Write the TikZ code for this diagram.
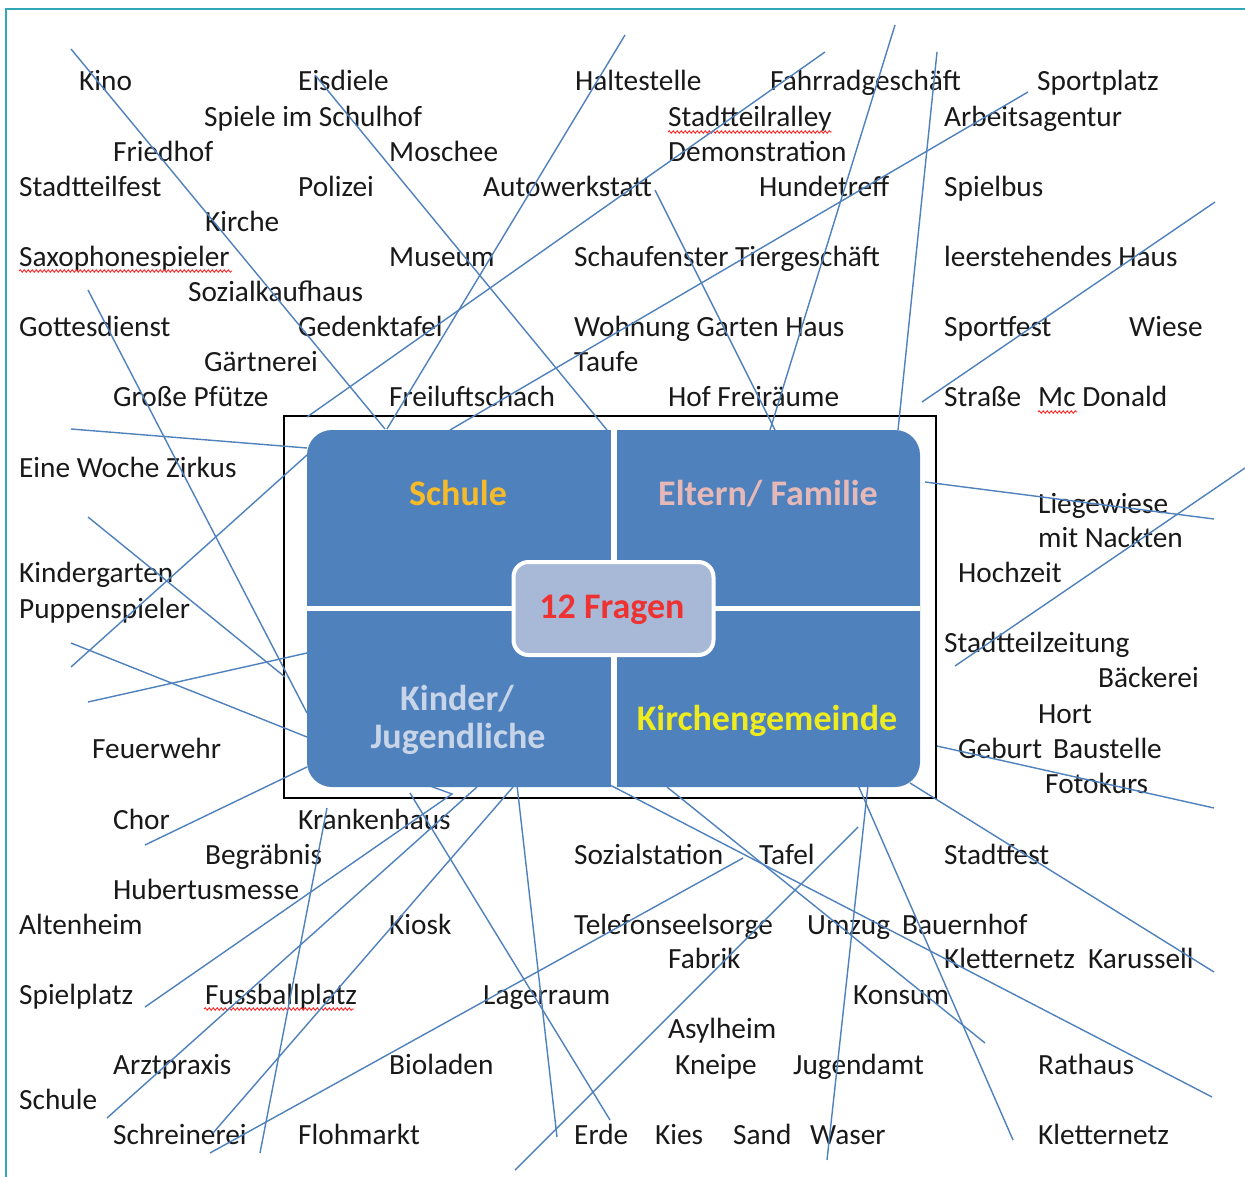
\documentclass[tikz,border=0pt]{standalone}
\usepackage{fontspec}
\setmainfont{Carlito}
\usetikzlibrary{decorations.pathmorphing}
\definecolor{smblue}{RGB}{79,129,189}
\definecolor{cfill}{RGB}{167,185,214}
\definecolor{frameteal}{RGB}{50,168,182}
\definecolor{cschule}{RGB}{247,186,40}
\definecolor{celtern}{RGB}{230,185,184}
\definecolor{cfragen}{RGB}{238,50,50}
\definecolor{ckinder}{RGB}{200,212,232}
\definecolor{ckirche}{RGB}{238,236,30}
\definecolor{ctext}{RGB}{25,25,25}
\tikzset{
  lbl/.style={anchor=base west, inner sep=0pt, font=\fontsize{29.3}{35}\selectfont, text=ctext},
  qlbl/.style={anchor=base, inner sep=0pt, font=\fontsize{36}{40}\selectfont\bfseries},
  link/.style={draw=smblue, line width=1.4pt},
  spell/.style={draw=red!85, line width=0.9pt, decorate, decoration={snake, amplitude=1.2pt, segment length=4pt}},
  framebox/.style={draw=frameteal, line width=2pt}
}
\begin{document}
\begin{tikzpicture}[x=1pt,y=-1pt]
\useasboundingbox (0,0) rectangle (1245,1177);
\fill[white] (0,0) rectangle (1245,1177);
\draw[framebox] (6,1177) -- (6,9) -- (1245,9);

% central matrix
\node[draw=black, line width=1.3pt, minimum width=652pt, minimum height=382pt, inner sep=0pt] (outer) at (610,607) {};
\node[fill=smblue, rounded corners=25pt, minimum width=613pt, minimum height=357pt, inner sep=0pt] (matrix) at (613.5,608.5) {};
\draw[white, line width=6pt] (matrix.north) -- (matrix.south);
\draw[white, line width=5.5pt] (matrix.west) -- (matrix.east);
\node[fill=cfill, draw=white, line width=4pt, rounded corners=15pt, minimum width=200pt, minimum height=93pt, inner sep=0pt] (center) at (613.5,608.5) {};
\node[qlbl, text=cfragen] (fragen) at (612,618) {12 Fragen};
\node[qlbl, text=cschule] (qschule) at (458,505) {Schule};
\node[qlbl, text=celtern] (qeltern) at (768,505) {Eltern/ Familie};
\node[qlbl, text=ckinder] (qkinder) at (457,710) {Kinder/};
\node[qlbl, text=ckinder] (qjugend) at (458,748) {Jugendliche};
\node[qlbl, text=ckirche] (qkirche) at (767,730) {Kirchengemeinde};

% words
\foreach \n/\x/\y/\t in {
kino/79/91/Kino, eisdiele/298/91/Eisdiele, halte/575/91/Haltestelle, fahrrad/770/91/Fahrradgeschäft, sportplatz/1037/91/Sportplatz,
spiele/204/126.5/Spiele im Schulhof, ralley/668/126.5/Stadtteilralley, arbeit/944/126.5/Arbeitsagentur,
friedhof/113/161.5/Friedhof, moschee/389/161.5/Moschee, demo/668/161.5/Demonstration,
stfest/19/197/Stadtteilfest, polizei/298/197/Polizei, auto/483/197/Autowerkstatt, hunde/759/197/Hundetreff, spielbus/944/197/Spielbus,
kirche/205/232/Kirche,
saxo/19/266.5/Saxophonespieler, museum/389/266.5/Museum, schauf/574/266.5/Schaufenster Tiergeschäft, leer/944/266.5/leerstehendes Haus,
sozkauf/188/301.5/Sozialkaufhaus,
gottes/19/336.5/Gottesdienst, gedenk/298/336.5/Gedenktafel, wohnung/574/336.5/Wohnung Garten Haus, sportfest/944/336.5/Sportfest, wiese/1129/336.5/Wiese,
gaert/204/371.5/Gärtnerei, taufe/574/371.5/Taufe,
pfuetze/113/406.5/Große Pfütze, schach/389/406.5/Freiluftschach, hof/668/406.5/Hof Freiräume, strasse/944/406.5/Straße, mcd/1038/406.5/Mc Donald,
zirkus/19/477/Eine Woche Zirkus,
liege/1038/513/Liegewiese, nackt/1038/547/mit Nackten, hochzeit/958/582/Hochzeit,
kinderg/19/582/Kindergarten, puppen/19/618/Puppenspieler,
zeitung/944/652/Stadtteilzeitung, baecker/1098/687/Bäckerei, hort/1038/723/Hort,
feuer/92/758/Feuerwehr, geburt/958/758/Geburt, bau/1053/758/Baustelle, foto/1045/793/Fotokurs,
chor/113/829/Chor, kranken/298/829/Krankenhaus,
begraeb/205/864/Begräbnis, sozst/574/864/Sozialstation, tafel/759/864/Tafel, stadtfest/944/864/Stadtfest,
hubertus/113/899/Hubertusmesse,
alten/19/934/Altenheim, kiosk/389/934/Kiosk, telefon/574/934/Telefonseelsorge, umzug/807/934/Umzug, bauern/902/934/Bauernhof,
fabrik/668/968/Fabrik, klett/944/968/Kletternetz, karussell/1088/968/Karussell,
spielpl/19/1004/Spielplatz, fussball/205/1004/Fussballplatz, lager/483/1004/Lagerraum, konsum/853/1004/Konsum,
asyl/668/1038/Asylheim,
arzt/113/1074/Arztpraxis, bio/389/1074/Bioladen, kneipe/675/1074/Kneipe, jugamt/793/1074/Jugendamt, rathaus/1038/1074/Rathaus,
schule/19/1109/Schule,
schrein/113/1144/Schreinerei, floh/298/1144/Flohmarkt, erde/574/1144/Erde, kies/655/1144/Kies, sand/733/1144/Sand, waser/810/1144/Waser, klett2/1038/1144/Kletternetz}
  \node[lbl] (\n) at (\x,\y) {\t};

% spell-check underlines
\draw[spell] (19,271) -- (232,271);
\draw[spell] (668,132) -- (832,132);
\draw[spell] (1038,412) -- (1077,412);
\draw[spell] (204,1009) -- (354,1009);

% connecting lines
\foreach \n/\ax/\ay/\bx/\by in {
a/71/49/385/429, b/315/75/607/430, c/625/35/387/429, d/307/417/825/52,
e/450/430/1028/92, f/655/190/775/430, g/895/25/770/430, h/937/52/898/430,
i/1215/202/922/402, j/71/429/307/448, k/88/290/307/713, l/88/517/285/677,
m/88/702/307/653, n/71/667/307/455, o/71/643/307/737, p/307/767/145/845,
q/925/482/1214/519, r/1245/468/955/666, s/937/746/1214/808, t/910/783/1214/972,
u/610/785/1212/1097, v/667/787/985/1043, w/868/785/827/1160, x/858/785/1013/1140,
y/858/827/515/1170, z/743/858/210/1153, bb/477/787/107/1118, cc/513/787/213/1133,
dd/517/785/557/1137, ee/410/793/610/1120, ff/327/808/260/1153}
{
  \coordinate (\n s) at (\ax,\ay);
  \coordinate (\n e) at (\bx,\by);
  \draw[link] (\n s) -- (\n e);
}
\coordinate (aas) at (430,786);
\coordinate (aam) at (452,794);
\coordinate (aae) at (145,1007);
\draw[link] (aas) -- (aam) -- (aae);
\end{tikzpicture}
\end{document}
